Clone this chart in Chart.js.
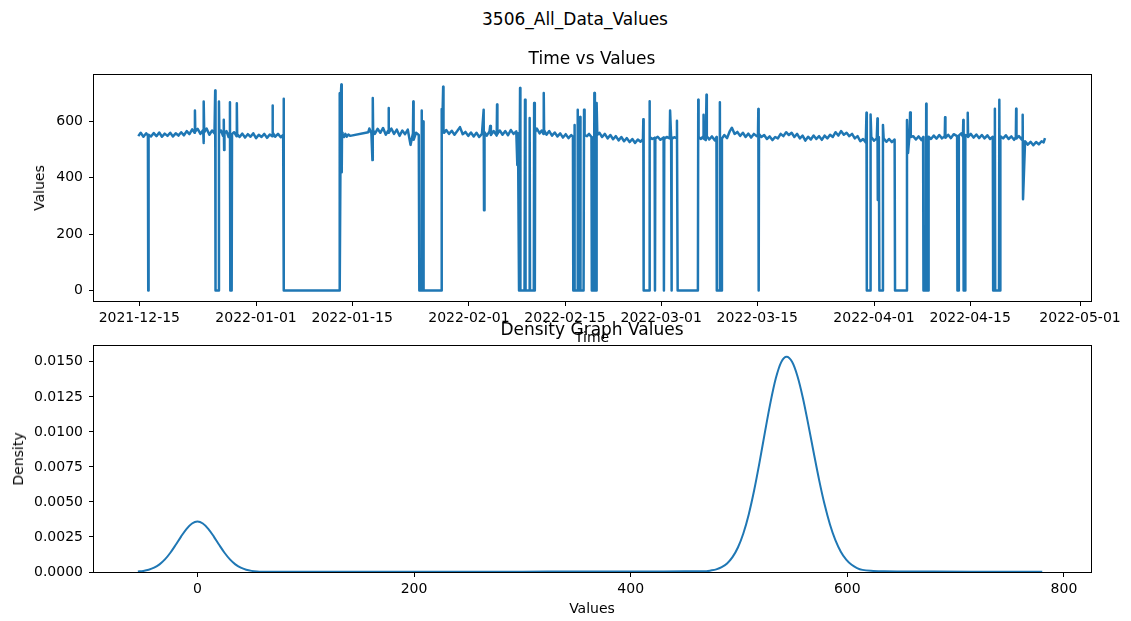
<!DOCTYPE html>
<html>
<head>
<meta charset="utf-8">
<script src="https://cdn.jsdelivr.net/npm/chart.js@4.4.1/dist/chart.umd.min.js"></script>
<style>
	body { margin: 0; background: #fff; font-family: 'DejaVu Sans', sans-serif; }
	#fig { position: relative; width: 1131px; height: 621px; overflow: hidden; }
	.box { position: absolute; left: 0; width: 1131px; }
	.txt { position: absolute; white-space: nowrap; color: #000; line-height: 1; z-index: 2; }
	.big { font-size: 17px; transform: translateX(-50%); }
	.lab { font-size: 14px; transform: translateX(-50%); }
	.rot { font-size: 14px; transform: translate(-50%, -50%) rotate(-90deg); }
</style>
</head>
<body>
<div id="fig">
	<div class="txt big" style="left:575px; top:11px;">3506_All_Data_Values</div>
	<div class="txt big" style="left:592px; top:50px;">Time vs Values</div>
	<div class="txt lab" style="left:592px; top:330px;">Time</div>
	<div class="txt big" style="left:592px; top:321px;">Density Graph Values</div>
	<div class="txt lab" style="left:592px; top:601px;">Values</div>
	<div class="txt rot" style="left:39px; top:188px;">Values</div>
	<div class="txt rot" style="left:18px; top:459px;">Density</div>

	<div class="box" style="top:55px; height:275px;"><canvas id="timeChart"></canvas></div>
	<div class="box" style="top:326px; height:295px;"><canvas id="densChart"></canvas></div>
</div>

<script>
	// days since 2021-12-15
	let timeDays = [
		-0.15, 0.2, 0.6, 1.0, 1.25, 1.3, 1.35, 1.7, 2.1, 2.5, 2.9, 3.3, 3.7, 4.1, 4.5, 4.9, 5.3, 5.7, 6.1, 6.5, 6.9,
		7.3, 7.7, 8.05, 8.1, 8.15, 8.5, 8.9, 9.3, 9.35, 9.4, 9.45, 9.8, 10.2, 10.6, 10.95, 11.05, 11.1, 11.55, 11.6, 11.65,
		11.9, 12.2, 12.3, 12.35, 12.4, 12.7, 13.0, 13.15, 13.2, 13.25, 13.45, 13.5, 13.8, 14.15, 14.2, 14.25, 14.6,
		15.0, 15.4, 15.8, 16.2, 16.6, 17.0, 17.4, 17.8, 18.2, 18.6, 19.0, 19.35, 19.4, 19.45, 19.8, 20.2, 20.6, 20.95, 21.0, 21.07,
		29.1, 29.15, 29.22, 29.35, 29.42, 29.48, 29.52, 29.6,
		29.8, 30.0, 30.2, 30.45, 30.7, 33.35,
		33.5, 33.8, 33.95, 34.0, 34.05, 34.3, 34.7, 35.1, 35.5, 35.9, 36.25, 36.3, 36.35, 36.7, 37.1, 37.5, 37.9, 38.3, 38.7, 39.1, 39.5, 39.85, 39.9, 39.95, 40.3, 40.7, 40.78,
		41.1, 41.13, 41.2, 41.35, 41.4, 44.0, 44.04, 44.1, 44.25, 44.3, 44.4,
		44.7, 45.1, 45.5, 45.9, 46.3, 46.7, 47.1, 47.5, 47.9, 48.3, 48.7, 49.1, 49.5, 49.9, 50.15, 50.2, 50.25, 50.3, 50.6, 51.0, 51.1, 51.2, 51.6, 52.05, 52.1, 52.15, 52.5, 52.9, 53.3, 53.7, 54.1, 54.5, 54.9,
		55.05, 55.15, 55.3, 55.4, 55.45, 55.5, 56.1, 56.17, 56.25, 56.8, 56.85, 56.9, 57.45, 57.5, 57.6, 57.65,
		57.9, 58.3, 58.6, 58.85, 58.9, 58.95, 59.3, 59.7, 60.1, 60.5, 60.9, 61.3, 61.7, 62.1, 62.5, 62.9, 63.15,
		63.2, 63.35, 63.37, 63.42, 63.8, 63.85, 63.9, 64.15, 64.2, 64.25, 64.7, 64.77, 64.85, 65.2, 65.5, 65.85, 65.9, 66.2, 66.27, 66.35, 66.55, 66.6, 66.7,
		67.0, 67.4, 67.8, 68.2, 68.6, 69.0, 69.4, 69.8, 70.2, 70.6, 71.0, 71.4, 71.8, 72.2, 72.6, 73.0, 73.35,
		73.4, 73.45, 74.25, 74.3, 74.35, 74.7, 75.05, 75.1, 75.15, 75.5, 75.9, 76.35, 76.4, 76.45, 76.8, 77.25, 77.3, 77.45, 77.5, 77.55, 77.9, 78.25, 78.3, 78.4, 81.35, 81.4, 81.45,
		81.8, 82.1, 82.15, 82.2, 82.5, 82.6, 82.65, 83.0, 83.4, 83.8, 84.05, 84.1, 84.5, 84.55, 84.6, 84.8, 84.85, 85.2, 85.6, 86.0, 86.3, 86.7, 87.1, 87.5, 87.9, 88.3, 88.7, 89.1, 89.5, 89.9,
		90.1, 90.15, 90.2, 90.25, 90.6, 91.0, 91.4, 91.8, 92.2, 92.6, 93.0, 93.4, 93.8, 94.2, 94.6, 95.0, 95.4, 95.8, 96.2, 96.6, 97.0, 97.4, 97.8, 98.2, 98.6, 99.0, 99.4, 99.8, 100.2, 100.6, 101.0, 101.4, 101.8, 102.2, 102.6, 103.0, 103.4, 103.8, 104.2, 104.6, 105.0, 105.4, 105.8,
		105.9, 105.95, 106.45, 106.5, 106.6, 107.0, 107.4, 107.5, 107.55, 107.7, 107.78, 108.25, 108.3, 108.4, 108.8, 109.2, 109.6, 110.0, 110.06, 111.75, 111.8, 111.95, 112.2, 112.25, 112.35,
		112.7, 113.1, 113.5, 113.9, 114.15, 114.2, 114.55, 114.6, 114.65, 114.9, 114.95, 115.3, 115.7, 116.1, 116.5, 116.9, 117.3, 117.35, 117.4, 117.8, 118.2, 118.6, 119.1, 119.15, 119.3, 119.35, 119.7, 119.95, 120.0, 120.05, 120.25, 120.3, 120.6, 120.65, 120.7, 121.1, 121.5, 121.9, 122.3, 122.7, 123.1, 123.5, 123.9, 124.3, 124.35, 124.55, 124.6, 124.65, 125.2, 125.25, 125.35, 125.4, 125.8, 126.2, 126.6, 127.0, 127.4, 127.65, 127.7, 127.75, 128.1, 128.5, 128.6, 128.65, 128.7, 129.0, 129.4, 129.8, 130.2, 130.6, 131.0, 131.4, 131.7, 131.9
	];

	let values = [
		548, 560, 546, 558, 550, 0, 553, 547, 559, 548, 561, 546, 557, 549, 560, 547, 558, 550, 562, 551, 566,
		555, 572, 560, 639, 565, 574, 556, 570, 524, 671, 562, 575, 553, 568, 558, 710, 0, 0, 671, 560,
		568, 548, 606, 499, 558, 566, 545, 560, 668, 0, 0, 555, 562, 548, 665, 556, 545,
		557, 543, 555, 546, 558, 541, 553, 545, 556, 542, 554, 548, 657, 560, 546, 556, 544, 552, 681, 0,
		0, 700, 0, 690, 731, 420, 560, 548,
		545, 556, 546, 554, 549, 562,
		575, 558, 463, 683, 570, 556, 574, 560, 577, 553, 568, 648, 560, 575, 556, 571, 549, 568, 555, 571, 517, 558, 671, 535, 560, 552, 0,
		0, 639, 0, 600, 0, 0, 644, 562, 723, 568, 560,
		570, 556, 567, 553, 566, 580, 555, 563, 549, 561, 547, 560, 545, 556, 642, 285, 548, 562, 550, 565, 584, 552, 566, 550, 660, 556, 568, 553, 566, 551, 570, 556, 565,
		446, 558, 0, 0, 719, 0, 0, 677, 0, 0, 612, 0, 0, 666, 0, 562,
		575, 558, 568, 556, 701, 570, 553, 566, 550, 561, 547, 558, 543, 555, 541, 552, 546,
		0, 0, 588, 0, 0, 642, 0, 0, 616, 0, 0, 642, 552, 548, 556, 545, 0, 0, 701, 0, 0, 666, 552,
		560, 545, 556, 540, 552, 537, 548, 533, 545, 530, 541, 527, 538, 524, 536, 528, 538,
		608, 0, 0, 672, 545, 538, 542, 0, 540, 546, 535, 543, 0, 538, 545, 540, 639, 544, 0, 538, 544, 541, 603, 0, 0, 677, 545,
		538, 546, 624, 540, 534, 695, 548, 536, 547, 533, 545, 0, 0, 668, 0, 0, 540, 552, 541, 566, 578, 556, 563, 549, 560, 545, 557, 543, 556, 548,
		552, 644, 0, 556, 545, 552, 538, 547, 534, 545, 540, 556, 548, 562, 552, 560, 545, 556, 540, 550, 532, 546, 536, 550, 538, 548, 535, 550, 540, 553, 545, 562, 550, 566, 553, 560, 548, 556, 540, 548, 530, 538, 526,
		631, 0, 0, 625, 545, 532, 540, 611, 321, 545, 0, 0, 588, 540, 528, 538, 527, 536, 0, 0, 605, 488, 560, 632, 545,
		548, 536, 547, 534, 545, 0, 0, 663, 0, 0, 546, 538, 550, 539, 552, 540, 548, 615, 542, 553, 541, 555, 548, 0, 0, 550, 558, 546, 605, 0, 0, 552, 548, 631, 545, 556, 543, 554, 541, 552, 540, 551, 538, 546, 0, 0, 645, 0, 0, 677, 0, 548, 540, 551, 538, 547, 535, 544, 645, 540, 548, 536, 545, 624, 324, 530, 518, 528, 516, 527, 519, 530, 526, 541
	];

	let dateTicks = ['2021-12-15', '2022-01-01', '2022-01-15', '2022-02-01', '2022-02-15',
		'2022-03-01', '2022-03-15', '2022-04-01', '2022-04-15', '2022-05-01'];
	let valueTicks = [0, 200, 400, 600];

	// density curve (kde of values)
	let densityX = [
		-55, -50, -45, -40, -35, -30, -25, -20, -15, -10, -5, 0, 5, 10, 15, 20, 25, 30, 35, 40, 45, 50, 55, 60, 70, 80,
		100, 150, 200, 250, 300, 350, 400, 430, 450, 460, 470,
		474, 479, 484, 489, 494, 499, 504, 509, 514, 519, 524, 529, 534, 539, 544,
		549, 554, 559, 564, 569, 574, 579, 584, 589, 594, 599, 604, 609, 614, 624, 634,
		650, 680, 720, 750, 780
	];
	let densityY = [
		0.000034, 0.000076, 0.000158, 0.000305, 0.000544, 0.000898, 0.001372, 0.001942, 0.002544, 0.003085, 0.003464, 0.0036,
		0.003464, 0.003085, 0.002544, 0.001942, 0.001372, 0.000898, 0.000544, 0.000305, 0.00016, 0.00008, 0.00004, 0.000022, 0.000012, 0.00001,
		0.00001, 0.000012, 0.000016, 0.00002, 0.000026, 0.000032, 0.000036, 0.00004, 0.000045, 0.00005, 0.00006,
		0.000107, 0.000189, 0.000343, 0.000612, 0.00106, 0.00175, 0.00275, 0.00411, 0.00583, 0.00784, 0.01, 0.01207, 0.01382, 0.01498, 0.01536,
		0.015, 0.01397, 0.01242, 0.01052, 0.00851, 0.00656, 0.00483, 0.00339, 0.00227, 0.00145, 0.000881, 0.000512, 0.000283, 0.00015, 0.000076, 0.000047,
		0.00004, 0.000032, 0.000025, 0.00002, 0.000015
	];
	let densityTicks = [0, 200, 400, 600, 800];
	let densityYTicks = [0, 0.0025, 0.005, 0.0075, 0.01, 0.0125, 0.015];

	const START = Date.parse('2021-12-15T00:00:00Z');
	function dayOf(s){
		return (Date.parse(s + 'T00:00:00Z') - START) / 864e5;
	}

	Chart.defaults.font.family = "'DejaVu Sans'";
	Chart.defaults.font.size = 14;
	Chart.defaults.color = '#000';

	// matplotlib style box around the axes
	const frame = {
		id: 'frame',
		afterDraw(chart){
			let a = chart.chartArea;
			let ctx = chart.ctx;
			ctx.save();
			ctx.strokeStyle = '#000';
			ctx.lineWidth = 1;
			ctx.strokeRect(a.left - 0.5, a.top - 0.5, a.right - a.left + 1, a.bottom - a.top + 1);
			ctx.restore();
		}
	};

	function tickGrid(){
		return { drawOnChartArea: false, color: '#000', tickLength: 5, lineWidth: 1 };
	}

	let blue = '#1f77b4';

	new Chart(document.getElementById('timeChart'), {
		type: 'line',
		data: {
			datasets: [{
				data: timeDays.map((t, i) => ({ x: t, y: values[i] })),
				borderColor: blue,
				borderWidth: 2.5,
				borderJoinStyle: 'round',
				pointRadius: 0,
				tension: 0,
				fill: false
			}]
		},
		options: {
			responsive: true,
			maintainAspectRatio: false,
			animation: false,
			events: [],
			devicePixelRatio: 1,
			layout: { padding: { top: 20, right: 40, left: 0, bottom: 0 } },
			plugins: { legend: { display: false }, tooltip: { enabled: false } },
			scales: {
				x: {
					type: 'linear',
					min: -6.6,
					max: 138.6,
					afterBuildTicks: s => { s.ticks = dateTicks.map(d => ({ value: dayOf(d) })); },
					afterFit: s => { s.height = 29; },
					ticks: { callback: (v, i) => dateTicks[i], maxRotation: 0, autoSkip: false, padding: 4 },
					grid: tickGrid(),
					border: { display: false }
				},
				y: {
					min: -37,
					max: 765,
					afterBuildTicks: s => { s.ticks = valueTicks.map(v => ({ value: v })); },
					afterFit: s => { s.width = 94; },
					ticks: { padding: 6 },
					grid: tickGrid(),
					border: { display: false }
				}
			}
		},
		plugins: [frame]
	});

	new Chart(document.getElementById('densChart'), {
		type: 'line',
		data: {
			datasets: [{
				data: densityX.map((x, i) => ({ x: x, y: densityY[i] })),
				borderColor: blue,
				borderWidth: 2,
				pointRadius: 0,
				cubicInterpolationMode: 'monotone',
				fill: false
			}]
		},
		options: {
			responsive: true,
			maintainAspectRatio: false,
			animation: false,
			events: [],
			devicePixelRatio: 1,
			layout: { padding: { top: 20, right: 40, left: 0, bottom: 0 } },
			plugins: { legend: { display: false }, tooltip: { enabled: false } },
			scales: {
				x: {
					type: 'linear',
					min: -95.5,
					max: 825,
					afterBuildTicks: s => { s.ticks = densityTicks.map(v => ({ value: v })); },
					afterFit: s => { s.height = 49; },
					ticks: { maxRotation: 0, autoSkip: false, padding: 4 },
					grid: tickGrid(),
					border: { display: false }
				},
				y: {
					min: 0,
					max: 0.01613,
					afterBuildTicks: s => { s.ticks = densityYTicks.map(v => ({ value: v })); },
					afterFit: s => { s.width = 94; },
					ticks: { padding: 6, callback: v => v.toFixed(4) },
					grid: tickGrid(),
					border: { display: false }
				}
			}
		},
		plugins: [frame]
	});
</script>
</body>
</html>
